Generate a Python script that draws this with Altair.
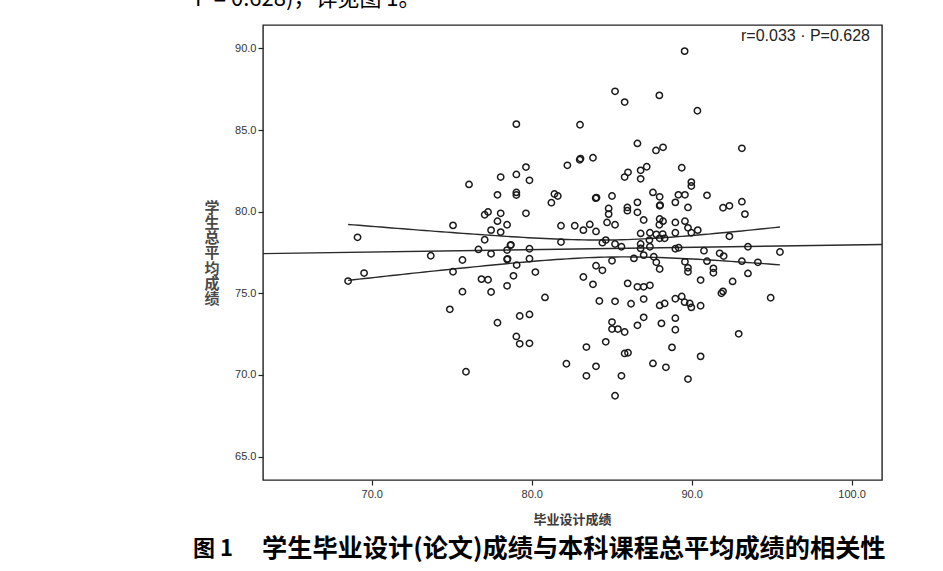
import altair as alt
import pandas as pd
import numpy as np

# 毕业设计成绩 (x) and 学生总平均成绩 (y)
design_score = [
    79.04, 76.08, 79.64, 79.04, 78.06, 79.86, 82.23, 77.86, 79.04, 79.04,
    81.42, 81.63, 81.23, 77.27, 77.06, 78.06, 79.64, 77.86, 78.46, 75.08,
    81.83, 82.69, 89.56, 85.21, 85.81, 87.98, 90.36, 83.02, 86.61, 87.77,
    88.21, 93.14, 83.00, 83.05, 83.83, 87.19, 86.81, 86.02, 85.81, 86.81,
    89.38, 89.98, 89.98, 84.00, 84.05, 85.02, 87.58, 88.00, 89.17, 89.58,
    90.96, 88.00, 88.03, 86.61, 88.98, 89.77, 91.96, 92.36, 93.14, 93.33,
    84.81, 84.81, 85.98, 85.98, 86.61, 87.00, 88.00, 88.21, 87.98, 88.98,
    89.58, 84.71, 85.21, 83.63, 83.23, 84.02, 89.77, 89.98, 90.38, 86.81,
    87.39, 87.79, 88.19, 88.00, 88.31, 87.36, 88.98, 92.36, 84.42, 84.63,
    85.21, 85.61, 86.81, 86.81, 87.39, 88.98, 89.19, 90.77, 93.52, 95.52,
    91.75, 92.00, 87.00, 86.39, 87.63, 87.79, 88.00, 85.02, 89.58, 89.77,
    89.77, 90.96, 93.14, 94.14, 91.36, 91.36, 84.02, 84.42, 93.52, 83.23,
    83.83, 90.56, 92.56, 86.00, 86.61, 87.00, 87.39, 91.96, 91.86, 94.94,
    84.23, 85.21, 86.21, 87.00, 88.00, 88.31, 88.98, 89.38, 89.56, 89.88,
    89.98, 90.56, 85.02, 85.02, 85.39, 85.81, 86.61, 87.00, 88.11, 88.98,
    88.98, 92.94, 83.42, 84.63, 85.81, 86.02, 88.77, 90.56, 82.17, 84.02,
    83.42, 85.61, 87.58, 88.39, 89.77, 85.21, 77.46, 78.06, 69.11, 77.06,
    81.83, 73.69, 75.67, 76.67, 77.46, 78.46, 78.67, 78.70, 79.86, 78.46,
    78.49, 79.86, 79.06, 69.52, 68.52, 75.08, 76.86, 77.27, 78.86, 80.23,
    75.67, 77.46, 78.46, 80.83, 74.88, 79.25, 79.86, 77.86, 79.04, 79.25,
    79.86, 75.89,
]
total_avg = [
    85.36, 81.67, 82.73, 82.28, 82.12, 81.92, 82.84, 81.03, 81.18, 81.02,
    81.08, 80.96, 80.55, 79.98, 79.81, 79.90, 79.90, 79.42, 79.20, 79.16,
    79.14, 79.14, 89.83, 87.37, 86.71, 87.12, 86.18, 85.32, 84.18, 83.75,
    83.94, 83.88, 83.18, 83.25, 83.30, 82.75, 82.53, 82.41, 82.12, 82.01,
    82.69, 81.81, 81.57, 80.83, 80.86, 80.96, 81.18, 80.91, 81.03, 81.03,
    81.00, 80.36, 80.40, 80.57, 80.57, 80.26, 80.24, 80.36, 80.61, 79.85,
    80.20, 79.85, 80.26, 80.06, 79.96, 79.49, 79.55, 79.42, 79.20, 79.34,
    79.42, 79.34, 79.20, 79.22, 78.87, 78.79, 79.01, 78.71, 78.87, 78.67,
    78.71, 78.61, 78.63, 78.37, 78.37, 78.26, 78.71, 78.49, 78.10, 78.26,
    78.02, 77.85, 78.02, 77.75, 77.85, 77.73, 77.79, 77.61, 77.85, 77.53,
    77.45, 77.28, 77.34, 77.14, 77.24, 76.90, 76.49, 76.99, 76.93, 76.56,
    76.32, 76.97, 76.97, 76.90, 76.53, 76.26, 76.69, 76.41, 76.22, 76.00,
    75.55, 75.81, 75.73, 75.61, 75.40, 75.40, 75.49, 75.12, 75.00, 74.73,
    74.53, 74.51, 74.36, 74.65, 74.26, 74.38, 74.67, 74.81, 74.46, 74.38,
    74.14, 74.24, 73.24, 72.81, 72.81, 72.63, 73.04, 73.53, 73.16, 73.48,
    72.77, 72.52, 71.71, 72.03, 71.32, 71.36, 71.69, 71.14, 70.69, 70.53,
    69.95, 69.95, 70.71, 70.47, 69.75, 68.73, 78.87, 78.75, 78.43, 78.28,
    78.14, 77.30, 77.04, 77.69, 77.42, 77.65, 77.94, 77.97, 77.73, 77.08,
    77.11, 77.12, 76.73, 76.24, 75.75, 76.32, 75.87, 75.83, 76.07, 76.30,
    75.10, 75.08, 75.46, 74.75, 74.02, 73.61, 73.71, 73.20, 72.36, 71.91,
    71.94, 70.20,
]

x_ticks = [70, 80, 90, 100]
y_ticks = [65, 70, 75, 80, 85, 90]
x_domain = [63.2, 101.9]
y_domain = [63.57, 91.43]

stat_text = "r=0.033 · P=0.628"
x_title = "毕业设计成绩"
y_title = ["学", "生", "总", "平", "均", "成", "绩"]
fig_no = "图 1"
caption = "学生毕业设计(论文)成绩与本科课程总平均成绩的相关性"
top_text = "P = 0.628)，详见图 1。"

# ---- linear fit and 95% confidence band of the mean, from the data ----
xa = np.array(design_score)
ya = np.array(total_avg)
n = len(xa)
slope, intercept = np.polyfit(xa, ya, 1)
resid = ya - (intercept + slope * xa)
s = np.sqrt((resid ** 2).sum() / (n - 2))
sxx = ((xa - xa.mean()) ** 2).sum()
tcrit = 1.972
fit_df = pd.DataFrame({"x": x_domain})
fit_df["y"] = intercept + slope * fit_df["x"]
grid = np.linspace(xa.min(), xa.max(), 80)
se = s * np.sqrt(1.0 / n + (grid - xa.mean()) ** 2 / sxx)
yhat = intercept + slope * grid
band_df = pd.DataFrame({
    "x": np.r_[grid, grid],
    "y": np.r_[yhat + tcrit * se, yhat - tcrit * se],
    "side": ["upper"] * len(grid) + ["lower"] * len(grid),
})

df = pd.DataFrame({"x": design_score, "y": total_avg})

xscale = alt.Scale(domain=x_domain, nice=False, zero=False)
yscale = alt.Scale(domain=y_domain, nice=False, zero=False)

axis_common = dict(grid=False, domain=False, tickSize=5, tickColor="#222",
                   tickWidth=1.2, labelFont="Liberation Sans", labelFontSize=11,
                   labelColor="#333", title=None, format=".1f")

xenc = alt.X("x:Q", scale=xscale,
             axis=alt.Axis(values=x_ticks, labelPadding=3, **axis_common))
yenc = alt.Y("y:Q", scale=yscale,
             axis=alt.Axis(values=y_ticks, labelPadding=2, **axis_common))

points = alt.Chart(df).mark_point(
    shape="circle", filled=False, size=40, stroke="#1a1a1a", strokeWidth=1.5,
    opacity=1,
).encode(x=xenc, y=yenc)

fit_line = alt.Chart(fit_df).mark_line(
    color="#2a2a2a", strokeWidth=1.4, clip=True
).encode(x=alt.X("x:Q", scale=xscale), y=alt.Y("y:Q", scale=yscale))

band_lines = alt.Chart(band_df).mark_line(
    color="#2a2a2a", strokeWidth=1.4, clip=True
).encode(x=alt.X("x:Q", scale=xscale), y=alt.Y("y:Q", scale=yscale),
         detail="side:N")


def label(text, x, y, **kw):
    return alt.Chart(pd.DataFrame({"t": [text]})).mark_text(**kw).encode(
        text="t:N", x=alt.value(x), y=alt.value(y))


stat = label(stat_text, 607, 11, align="right", baseline="middle",
             font="Liberation Sans", fontSize=16, color="#222")
xt = label(x_title, 309.5, 495, align="center", baseline="middle",
           font="Noto Sans CJK SC", fontSize=13, fontWeight="bold", color="#3a3a3a")
yt = alt.Chart(pd.DataFrame({"k": [0]})).mark_text(
    text=y_title, align="center", baseline="middle", lineHeight=15.3,
    font="Noto Sans CJK SC", fontSize=15, fontWeight="bold", color="#4a4a4a",
).encode(x=alt.value(-51), y=alt.value(182.5))
fig = label(fig_no, -70, 524, align="left", baseline="middle",
            font="Noto Sans CJK SC", fontSize=22, fontWeight="bold", color="#000")
cap = label(caption, -1, 524, align="left", baseline="middle",
            font="Noto Sans CJK SC", fontSize=25.2, fontWeight="bold", color="#000")
top = label(top_text, -68, -19, align="left", baseline="alphabetic",
            font="Noto Sans CJK SC", fontSize=22, color="#000")

chart = alt.layer(
    band_lines, fit_line, points, stat, xt, yt, fig, cap, top
).properties(
    width=619, height=455,
    autosize=alt.AutoSizeParams(type="none"),
    padding={"left": 263, "top": 25, "right": 61, "bottom": 91},
    background="white",
).configure_view(
    stroke="#222", strokeWidth=1.4
)

chart.save("out.html", embed_options={"renderer": "svg", "actions": False})
